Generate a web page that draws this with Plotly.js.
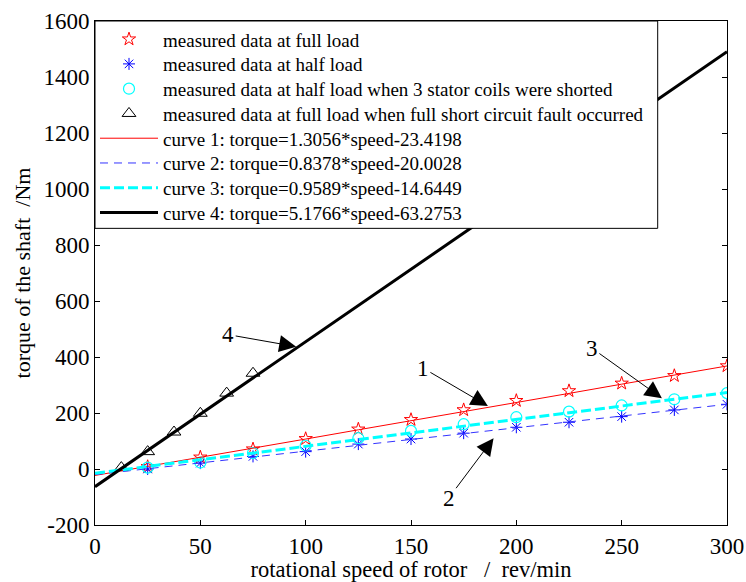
<!DOCTYPE html>
<html>
<head>
<meta charset="utf-8">
<script src="https://cdn.plot.ly/plotly-3.0.1.min.js"></script>
<style>html,body{margin:0;padding:0;background:#fff;}#chart{width:746px;height:582px;}</style>
</head>
<body>
<div id="chart"></div>
<script>
// measured data
const speed = [25, 50, 75, 100, 125, 150, 175, 200, 225, 250, 275, 300];
const fullLoad = [8, 42, 71, 108, 142, 176, 211, 244, 279, 306, 333, 368];
const halfLoad = [0, 21, 45, 62, 89, 107, 128, 149, 167, 187, 211, 231];
const halfLoadShorted = [5, 23, 57, 83, 110, 136, 160, 185, 205, 227, 249, 271];
const faultSpeed = [12.5, 25, 37.5, 50, 62.5, 75];
const faultTorque = [5, 62, 132, 199, 271, 342];

// fitted curves
const fitSpeed = [0, 25, 50, 75, 100, 125, 150, 175, 200, 225, 250, 275, 300];
const curve1 = [-23, 9, 42, 75, 107, 140, 172, 205, 238, 270, 303, 336, 368];
const curve2 = [-20, 1, 22, 43, 64, 85, 106, 127, 148, 168, 189, 210, 231];
const curve3 = [-15, 9, 33, 57, 81, 105, 129, 153, 177, 201, 225, 249, 273];
const curve4 = [-63, 66, 195, 325, 454, 584, 713, 843, 972, 1102, 1231, 1361, 1490];

// tick labels
const xTickVals = [0, 50, 100, 150, 200, 250, 300];
const xTickText = ['0', '50', '100', '150', '200', '250', '300'];
const yTickVals = [-200, 0, 200, 400, 600, 800, 1000, 1200, 1400, 1600];
const yTickText = ['-200', '0', '200', '400', '600', '800', '1000', '1200', '1400', '1600'];

const names = [
  'measured data at full load',
  'measured data at half load',
  'measured data at half load when 3 stator coils were shorted',
  'measured data at full load when full short circuit fault occurred',
  'curve 1: torque=1.3056*speed-23.4198',
  'curve 2: torque=0.8378*speed-20.0028',
  'curve 3: torque=0.9589*speed-14.6449',
  'curve 4: torque=5.1766*speed-63.2753'
];

// annotation labels and arrow tips (speed, torque)
const arrowLabels = ['4', '1', '2', '3'];
const arrowX = [95.5, 186.5, 189.2, 269.1];
const arrowY = [437, 225, 110, 253];

const serif = 'Liberation Serif, Times New Roman, serif';

const traces = [
  {x: speed, y: fullLoad, mode: 'markers', name: names[0],
   marker: {symbol: 'star-open', size: 10, color: '#ff0000', line: {width: 1, color: '#ff0000'}}},
  {x: speed, y: halfLoad, mode: 'markers', name: names[1],
   marker: {symbol: 'asterisk-open', size: 10, color: '#0000ff', line: {width: 1, color: '#0000ff'}}},
  {x: speed, y: halfLoadShorted, mode: 'markers', name: names[2],
   marker: {symbol: 'circle-open', size: 11, color: '#00ffff', line: {width: 1.2, color: '#00ffff'}}},
  {x: faultSpeed, y: faultTorque, mode: 'markers', name: names[3],
   marker: {symbol: 'triangle-up-open', size: 12, color: '#000000', line: {width: 1, color: '#000000'}}},
  {x: fitSpeed, y: curve1, mode: 'lines', name: names[4],
   line: {color: '#ff0000', width: 1}},
  {x: fitSpeed, y: curve2, mode: 'lines', name: names[5],
   line: {color: '#3333ff', width: 1, dash: '8px,6px'}},
  {x: fitSpeed, y: curve3, mode: 'lines', name: names[6],
   line: {color: '#00ffff', width: 3, dash: '10px,4px'}},
  {x: fitSpeed, y: curve4, mode: 'lines', name: names[7],
   line: {color: '#000000', width: 3}}
];

// one legend per entry so that row spacing can match the reference
const plotTop = 20.7, plotBottom = 525.3, plotLeft = 95, plotRight = 727;
const rowFirst = 39, rowStep = 24.8;
const layout = {
  width: 746, height: 582,
  margin: {l: 95, r: 19, t: 21, b: 57},
  paper_bgcolor: '#fff', plot_bgcolor: '#fff',
  font: {family: serif, size: 20, color: '#000'},
  showlegend: true,
  xaxis: {
    range: [0, 300], tickmode: 'array', tickvals: xTickVals, ticktext: xTickText,
    ticks: 'inside', ticklen: 5, tickcolor: '#000',
    showline: true, linecolor: '#000', linewidth: 1, mirror: 'ticks',
    showgrid: false, zeroline: false,
    tickfont: {family: serif, size: 23, color: '#000'},
    title: {text: 'rotational speed of rotor\u00a0\u00a0\u00a0/\u00a0\u00a0rev/min', font: {family: serif, size: 22.5, color: '#000'}, standoff: 0}
  },
  yaxis: {
    range: [-200, 1600], tickmode: 'array', tickvals: yTickVals, ticktext: yTickText,
    ticks: 'inside', ticklen: 5, tickcolor: '#000',
    showline: true, linecolor: '#000', linewidth: 1, mirror: 'ticks',
    showgrid: false, zeroline: false,
    tickfont: {family: serif, size: 23, color: '#000'},
    title: {text: 'torque of the shaft\u00a0\u00a0/Nm', font: {family: serif, size: 22, color: '#000'}, standoff: 6}
  },
  shapes: [{
    type: 'rect', xref: 'paper', yref: 'paper', layer: 'above',
    x0: 0, x1: (657.7 - plotLeft) / (plotRight - plotLeft),
    y0: (plotBottom - 228.3) / (plotBottom - plotTop), y1: 1,
    fillcolor: '#fff', line: {color: '#000', width: 1}
  }],
  annotations: arrowLabels.map((t, i) => ({
    x: arrowX[i], y: arrowY[i], xref: 'x', yref: 'y',
    text: t, showarrow: true, arrowhead: 2, arrowsize: 3.4, arrowwidth: 1,
    arrowcolor: '#000', ax: [-68, -65, -45, -70][i], ay: [-12, -38, 60, -50][i],
    font: {family: serif, size: 23, color: '#000'}
  }))
};

traces.forEach((tr, i) => {
  const key = i === 0 ? 'legend' : 'legend' + (i + 1);
  tr.legend = key;
  const py = rowFirst + rowStep * i;
  layout[key] = {
    x: 0, xanchor: 'left',
    y: (plotBottom - py) / (plotBottom - plotTop), yanchor: 'middle',
    bgcolor: 'rgba(0,0,0,0)', borderwidth: 0,
    font: {family: serif, size: 19, color: '#000'},
    itemwidth: 58
  };
});

Plotly.newPlot('chart', traces, layout, {displayModeBar: false, staticPlot: true});
</script>
</body>
</html>
